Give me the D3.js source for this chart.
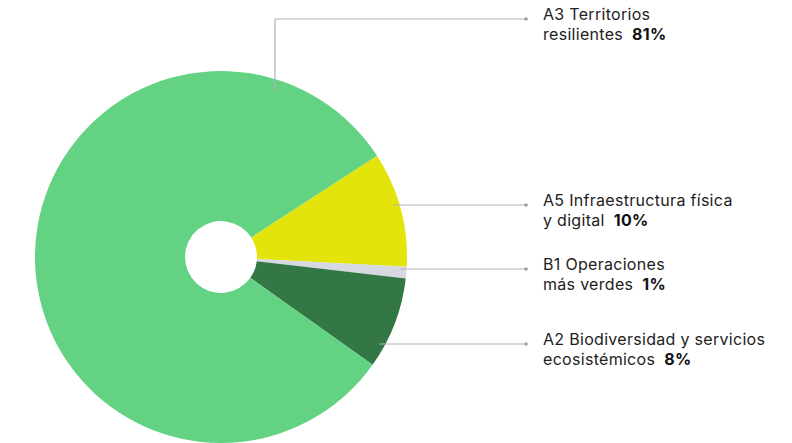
<!DOCTYPE html>
<html><head><meta charset="utf-8">
<script src="https://cdn.jsdelivr.net/npm/d3@7"></script>
<style>body{margin:0;background:#fff}svg{display:block}text{font-family:Inter,"Noto Sans",sans-serif}</style>
</head><body><div id="chart"></div>
<script>
const categories = ["A5 Infraestructura física|y digital", "B1 Operaciones|más verdes", "A2 Biodiversidad y servicios|ecosistémicos", "A3 Territorios|resilientes"];
const values = [10, 1, 8, 81];
const pctLabels = ["10%", "1%", "8%", "81%"];
const colors = ["#e4e40d", "#d7d9e2", "#337744", "#63d383"];
const labelY = [205, 269, 344, 19];

const W = 792, H = 443, cx = 221, cy = 257, R = 186, r0 = 36;
const svg = d3.select("#chart").append("svg").attr("width", W).attr("height", H);
const startA = 57 * Math.PI / 180;
const pie = d3.pie().sort(null).value(d => d).startAngle(startA).endAngle(startA + 2 * Math.PI);
const arcs = pie(values);
const arc = d3.arc().innerRadius(r0).outerRadius(R);
const g = svg.append("g").attr("transform", `translate(${cx},${cy})`);
g.selectAll("path").data(arcs).join("path").attr("d", arc).attr("fill", (d, i) => colors[i]);

const lineX2 = 526, textX = 543;
categories.forEach((c, i) => {
  const y = labelY[i];
  if (i === 3) {
    const vx = 275;
    const yTop = cy - Math.sqrt(R * R - (vx - cx) ** 2);
    svg.append("path").attr("d", `M${vx},${yTop + 12}V${y}H${lineX2}`).attr("fill", "none").attr("stroke", "#b3b3b3").attr("stroke-width", 1.2);
  } else {
    const dy = y - cy;
    const x1 = cx + Math.sqrt(R * R - dy * dy) - 6;
    svg.append("line").attr("x1", x1).attr("x2", lineX2).attr("y1", y).attr("y2", y).attr("stroke", "#b3b3b3").attr("stroke-width", 1.2);
  }
  svg.append("circle").attr("cx", lineX2).attr("cy", y).attr("r", 1.8).attr("fill", "#a0a0a0");
  const parts = c.split("|");
  const t = svg.append("text").attr("x", textX).attr("y", y + 1).attr("font-size", 16).attr("letter-spacing", 0.3).attr("fill", "#222");
  t.append("tspan").attr("x", textX).text(parts[0]);
  const t2 = svg.append("text").attr("x", textX).attr("y", y + 20.5).attr("font-size", 16).attr("letter-spacing", 0.3).attr("fill", "#222");
  t2.append("tspan").text(parts[1]);
  t2.append("tspan").attr("dx", 9).attr("font-weight", "bold").attr("fill", "#111").text(pctLabels[i]);
});
</script></body></html>
